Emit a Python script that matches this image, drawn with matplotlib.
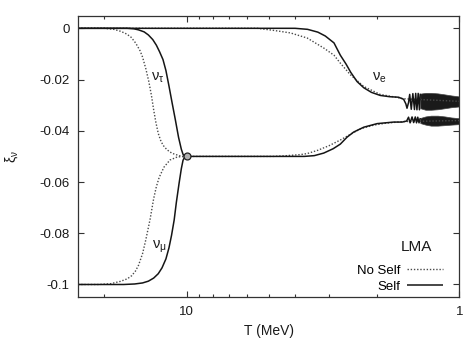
import matplotlib
matplotlib.use("Agg")
import matplotlib.pyplot as plt
from matplotlib.ticker import FixedLocator, FixedFormatter, NullFormatter

plt.rcParams['font.family'] = ['Liberation Sans', 'DejaVu Sans']
plt.rcParams['mathtext.fontset'] = 'dejavusans'
plt.rcParams['mathtext.default'] = 'regular'
plt.rcParams['axes.unicode_minus'] = False

# --- nu_tau (T >= 10 MeV) ---
T_tau_self = [25, 16.5, 15.6, 15.0, 14.3, 13.8, 13.3, 12.9, 12.55, 12.2, 11.9, 11.6, 11.3, 11.0, 10.7, 10.45, 10.3, 10.15, 10.0]
xi_tau_self = [0, 0, -0.0002, -0.0006, -0.0014, -0.0026, -0.0044, -0.0066, -0.0092, -0.0122, -0.0165, -0.0225, -0.029, -0.0355, -0.0425, -0.0472, -0.0492, -0.0499, -0.05]
T_tau_noself = [25, 20, 18.5, 17.4, 16.6, 16.0, 15.5, 15.2, 14.8, 14.5, 14.1, 13.75, 13.45, 13.2, 12.95, 12.7, 12.45, 12.2, 11.8, 11.3, 10.5, 10.0]
xi_tau_noself = [0, 0, -0.0004, -0.0012, -0.0022, -0.0034, -0.0052, -0.0066, -0.0088, -0.0112, -0.0158, -0.0208, -0.0262, -0.0318, -0.0368, -0.041, -0.0437, -0.0456, -0.0474, -0.0488, -0.0499, -0.05]

# --- nu_mu (T >= 10 MeV) ---
T_mu_self = [25, 17.0, 15.5, 14.5, 13.8, 13.2, 12.7, 12.3, 11.9, 11.6, 11.35, 11.1, 10.9, 10.65, 10.45, 10.3, 10.15, 10.0]
xi_mu_self = [-0.1, -0.1, -0.0998, -0.0994, -0.0987, -0.0975, -0.0958, -0.0935, -0.09, -0.0857, -0.0808, -0.0748, -0.068, -0.0605, -0.0548, -0.0515, -0.0502, -0.05]
T_mu_noself = [25, 21, 19, 17.5, 16.5, 15.9, 15.4, 15.0, 14.5, 14.1, 13.6, 13.2, 12.9, 12.6, 12.1, 11.5, 10.8, 10.0]
xi_mu_noself = [-0.1, -0.1, -0.0997, -0.0988, -0.0978, -0.0966, -0.0948, -0.0925, -0.088, -0.0825, -0.0745, -0.0665, -0.0618, -0.0582, -0.0542, -0.0514, -0.0502, -0.05]

# --- nu_mu / nu_tau together (T <= 10 MeV) ---
T_mt_self = [10, 3.7, 3.4, 3.14, 2.9, 2.73, 2.58, 2.44, 2.24, 2.0, 1.74, 1.62, 1.56, 1.535, 1.515,
             1.49, 1.47, 1.45, 1.435, 1.42, 1.405, 1.39]
xi_mt_self = [-0.05, -0.05, -0.0497, -0.0487, -0.047, -0.0452, -0.0425, -0.0405, -0.0386, -0.0372, -0.0366, -0.0366, -0.0362, -0.0347, -0.0369,
              -0.0346, -0.0368, -0.0346, -0.0369, -0.0347, -0.0369, -0.035]
T_mt_noself = [10, 4.8, 4.28, 3.83, 3.61, 3.3, 3.0, 2.73, 2.5, 2.3, 2.06, 1.85, 1.6, 1.0]
xi_mt_noself = [-0.05, -0.05, -0.0497, -0.0493, -0.0489, -0.0476, -0.0458, -0.0436, -0.0413, -0.0392, -0.0378, -0.037, -0.0364, -0.036]

# --- nu_e ---
T_e_self = [25, 4.0, 3.6, 3.3, 3.1, 2.88, 2.73, 2.6, 2.5, 2.37, 2.24, 2.1, 1.95, 1.8, 1.67, 1.6, 1.57, 1.555,
            1.535, 1.52, 1.5, 1.48, 1.46, 1.445, 1.43, 1.415, 1.4, 1.39]
xi_e_self = [0, 0, -0.0004, -0.0015, -0.003, -0.0057, -0.0105, -0.014, -0.0172, -0.0208, -0.0232, -0.025, -0.0262, -0.0267, -0.0269, -0.0277, -0.0295, -0.0312,
             -0.029, -0.0258, -0.0316, -0.0255, -0.0317, -0.0254, -0.0318, -0.0254, -0.0318, -0.0255]
T_e_noself = [25, 5.5, 4.8, 4.16, 3.61, 3.14, 2.88, 2.73, 2.51, 2.24, 1.95, 1.75, 1.6, 1.0]
xi_e_noself = [0, 0, -0.0008, -0.0018, -0.0038, -0.0077, -0.0105, -0.0136, -0.0181, -0.0227, -0.0258, -0.0267, -0.0275, -0.0285]

# --- envelopes of the fast oscillations below ~1.4 MeV ---
T_band = [1.39, 1.33, 1.27, 1.2, 1.13, 1.07, 1.0]
e_band_hi = [-0.0255, -0.0252, -0.0252, -0.0254, -0.0258, -0.0262, -0.0266]
e_band_lo = [-0.0312, -0.0318, -0.0318, -0.0316, -0.0312, -0.0308, -0.0305]
mt_band_hi = [-0.035, -0.0344, -0.0341, -0.0341, -0.0344, -0.0348, -0.0351]
mt_band_lo = [-0.037, -0.0376, -0.038, -0.038, -0.0378, -0.0376, -0.0374]

# synchronisation point
knot_T = [10.0]
knot_xi = [-0.05]

yticks = [0, -0.02, -0.04, -0.06, -0.08, -0.1]
ytick_labels = ['0', '-0.02', '-0.04', '-0.06', '-0.08', '-0.1']
xticks_major = [10, 1]
xtick_labels = ['10', '1']
xticks_minor = [20, 9, 8, 7, 6, 5, 4, 3, 2]

solid_kw = dict(color='#151515', lw=1.1, solid_capstyle='butt', solid_joinstyle='round')
dot_kw = dict(color='#4a4a4a', lw=1.0, linestyle=(0, (1, 1.3)))

fig = plt.figure(figsize=(4.75, 3.45), dpi=100)
ax = fig.add_axes([78 / 475, 1 - 297.3 / 345, (459.3 - 78) / 475, (297.3 - 15.5) / 345])
ax.set_xscale('log')

# no self-interaction (dotted)
ax.plot(T_tau_noself, xi_tau_noself, **dot_kw)
ax.plot(T_mu_noself, xi_mu_noself, **dot_kw)
ax.plot(T_mt_noself, xi_mt_noself, **dot_kw)
ln_noself, = ax.plot(T_e_noself, xi_e_noself, **dot_kw)

# with self-interaction (solid)
ax.plot(T_tau_self, xi_tau_self, **solid_kw)
ax.plot(T_mu_self, xi_mu_self, **solid_kw)
ax.plot(T_mt_self, xi_mt_self, **solid_kw)
ln_self, = ax.plot(T_e_self, xi_e_self, **solid_kw)
ax.fill_between(T_band, e_band_lo, e_band_hi, facecolor='#1a1a1a', lw=0.5, edgecolor='#444')
ax.fill_between(T_band, mt_band_lo, mt_band_hi, facecolor='#1a1a1a', lw=0.5, edgecolor='#444')

ax.plot(knot_T, knot_xi, 'o', ms=5, mfc='#b0b0b0', mec='#222', mew=0.9, zorder=5)

ax.set_xlim(25, 1)
ax.set_ylim(-0.105, 0.005)

ax.xaxis.set_major_locator(FixedLocator(xticks_major))
ax.xaxis.set_major_formatter(FixedFormatter(xtick_labels))
ax.xaxis.set_minor_locator(FixedLocator(xticks_minor))
ax.xaxis.set_minor_formatter(NullFormatter())
ax.yaxis.set_major_locator(FixedLocator(yticks))
ax.yaxis.set_major_formatter(FixedFormatter(ytick_labels))
ax.yaxis.set_minor_locator(FixedLocator([]))

ax.tick_params(which='both', direction='in', top=True, right=True, color='#333',
               labelsize=9.5, labelcolor='#1a1a1a', width=0.8)
ax.tick_params(which='major', length=4)
ax.tick_params(which='minor', length=2.3)
ax.tick_params(axis='y', pad=6)
ax.tick_params(axis='x', pad=6.5)
for s in ax.spines.values():
    s.set_color('#333')
    s.set_linewidth(0.9)

ax.set_xlabel('T (MeV)', fontsize=10, color='#1a1a1a')
ax.xaxis.set_label_coords(0.5, -0.095)
ax.set_ylabel(r'$\xi_\nu$', fontsize=10, color='#1a1a1a')
ax.yaxis.set_label_coords(-0.151, 0.5)

ax.text(12.8, -0.0195, r'$\nu_\tau$', fontsize=10.5, ha='center', va='center', color='#1a1a1a')
ax.text(12.6, -0.0855, r'$\nu_\mu$', fontsize=10.5, ha='center', va='center', color='#1a1a1a')
ax.text(1.96, -0.0195, r'$\nu_e$', fontsize=10.5, ha='center', va='center', color='#1a1a1a')

ax.text(416 / 475, 1 - 247.3 / 345, 'LMA', transform=fig.transFigure, fontsize=11,
        ha='center', va='center', color='#1a1a1a')
ax.legend([ln_noself, ln_self], ['No Self', 'Self'], loc='lower right',
          bbox_to_anchor=(443 / 475, 1 - 293 / 345), bbox_transform=fig.transFigure,
          frameon=False, markerfirst=False, handlelength=2.7, handletextpad=0.55,
          labelspacing=0.3, borderpad=0, borderaxespad=0, fontsize=9.5)

fig.savefig('out.png', dpi=100)
